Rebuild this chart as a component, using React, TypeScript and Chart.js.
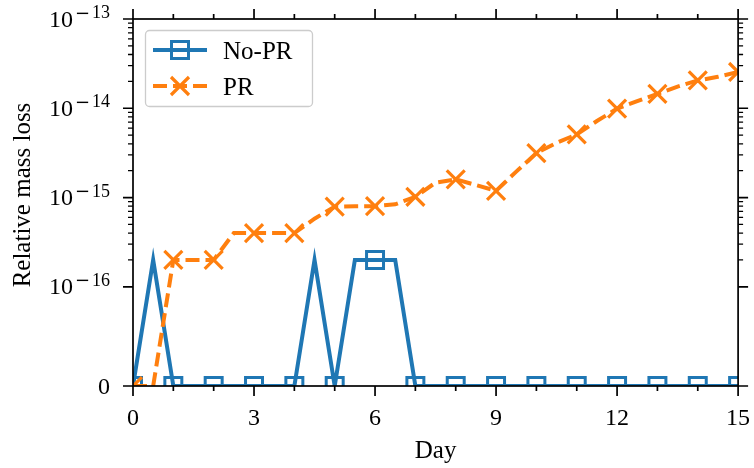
import React, { useEffect, useRef } from "react";
import { Chart, Scale, registerables } from "chart.js";

// ---------------- data ----------------
const days = [
  0, 0.5, 1, 1.5, 2, 2.5, 3, 3.5, 4, 4.5, 5, 5.5, 6, 6.5, 7, 7.5, 8, 8.5, 9, 9.5,
  10, 10.5, 11, 11.5, 12, 12.5, 13, 13.5, 14, 14.5, 15,
];
const noPR = [
  0, 2e-16, 0, 0, 0, 0, 0, 0, 0, 2e-16, 0, 2e-16, 2e-16, 2e-16, 0, 0, 0, 0, 0, 0,
  0, 0, 0, 0, 0, 0, 0, 0, 0, 0, 0,
];
const PR = [
  0, 0, 2e-16, 2e-16, 2e-16, 4e-16, 4e-16, 4e-16, 4e-16, 5.8e-16, 7.9e-16, 8e-16, 8e-16,
  8.4e-16, 1.02e-15, 1.47e-15, 1.6e-15, 1.38e-15, 1.19e-15, 1.95e-15, 3.15e-15, 4.1e-15,
  5.1e-15, 7.2e-15, 9.9e-15, 1.2e-14, 1.45e-14, 1.75e-14, 2.05e-14, 2.25e-14, 2.55e-14,
];
const seriesLabels = ["No-PR", "PR"];
const xTicks = [0, 1, 2, 3, 4, 5, 6, 7, 8, 9, 10, 11, 12, 13, 14, 15];
const xMajorTicks = [0, 3, 6, 9, 12, 15];
const yMajorTicks = [0, 1e-16, 1e-15, 1e-14, 1e-13];
const yMajorExponents = ["", "16", "15", "14", "13"];
const yMinorMantissas = [2, 3, 4, 5, 6, 7, 8, 9];
const yMinorDecades = [-16, -15, -14];
const xTitle = "Day";
const yTitle = "Relative mass loss";

// ---------------- style ----------------
const BLUE = "#1f77b4";
const ORANGE = "#ff7f0e";
const FONT = "'Liberation Serif', 'Times New Roman', serif";
const MINUS_FONT = "'DejaVu Serif', serif";
const LINTHRESH = 1e-16;
const LINSCALE = 1 / (1 - 1 / 10);

function symlog(v: number): number {
  const a = Math.abs(v);
  const s = v < 0 ? -1 : 1;
  if (a <= LINTHRESH) return (v / LINTHRESH) * LINSCALE;
  return s * (LINSCALE + Math.log10(a / LINTHRESH));
}
function invSymlog(t: number): number {
  const a = Math.abs(t);
  const s = t < 0 ? -1 : 1;
  if (a <= LINSCALE) return (t / LINSCALE) * LINTHRESH;
  return s * LINTHRESH * Math.pow(10, a - LINSCALE);
}

class SymlogScale extends (Scale as any) {
  static id = "symlog";
  static defaults = {};
  _tmin = 0;
  _trange = 1;
  parse(raw: any) {
    return typeof raw === "number" ? raw : Number(raw);
  }
  determineDataLimits() {
    const me: any = this;
    me.min = me.options.min ?? 0;
    me.max = me.options.max ?? 1;
  }
  buildTicks() {
    return yMajorTicks.map((v) => ({ value: v }));
  }
  configure() {
    const me: any = this;
    super.configure();
    me._tmin = symlog(me.min);
    me._trange = symlog(me.max) - symlog(me.min);
  }
  getPixelForValue(value: number) {
    const me: any = this;
    if (value === null || value === undefined || isNaN(value)) return NaN;
    return me.getPixelForDecimal((symlog(value) - me._tmin) / me._trange);
  }
  getValueForPixel(pixel: number) {
    const me: any = this;
    const d = me.getDecimalForPixel(pixel);
    return invSymlog(me._tmin + d * me._trange);
  }
  getPixelForTick(index: number) {
    const me: any = this;
    const ticks = me.ticks;
    if (index < 0 || index > ticks.length - 1) return null;
    return me.getPixelForValue(ticks[index].value);
  }
}

Chart.register(...registerables, SymlogScale as any);

const decorPlugin = {
  id: "decor",
  afterDatasetsDraw(chart: any) {
    const ctx: CanvasRenderingContext2D = chart.ctx;
    const { left, right, top, bottom } = chart.chartArea;
    const xs = chart.scales.x;
    const ys = chart.scales.y;
    ctx.save();
    ctx.strokeStyle = "#000";
    ctx.lineWidth = 1.7;
    ctx.lineCap = "butt";
    // frame
    ctx.strokeRect(left, top, right - left, bottom - top);
    // x ticks
    xTicks.forEach((v) => {
      const px = xs.getPixelForValue(v);
      const len = xMajorTicks.includes(v) ? 10 : 5;
      ctx.beginPath();
      ctx.moveTo(px, bottom);
      ctx.lineTo(px, bottom + len);
      ctx.moveTo(px, top);
      ctx.lineTo(px, top - len);
      ctx.stroke();
    });
    // y ticks
    yMajorTicks.forEach((v) => {
      const py = ys.getPixelForValue(v);
      ctx.beginPath();
      ctx.moveTo(left, py);
      ctx.lineTo(left - 10, py);
      ctx.moveTo(right, py);
      ctx.lineTo(right + 10, py);
      ctx.stroke();
    });
    ctx.lineWidth = 1.3;
    yMinorDecades.forEach((e) => {
      yMinorMantissas.forEach((m) => {
        const py = ys.getPixelForValue(m * Math.pow(10, e));
        ctx.beginPath();
        ctx.moveTo(left, py);
        ctx.lineTo(left - 5, py);
        ctx.moveTo(right, py);
        ctx.lineTo(right + 5, py);
        ctx.stroke();
      });
    });
    // x tick labels
    ctx.fillStyle = "#000";
    ctx.font = `24px ${FONT}`;
    ctx.textAlign = "center";
    ctx.textBaseline = "alphabetic";
    xMajorTicks.forEach((v) => {
      ctx.fillText(String(v), xs.getPixelForValue(v), bottom + 39);
    });
    // y tick labels
    const xr = left - 23;
    yMajorTicks.forEach((v, i) => {
      const py = ys.getPixelForValue(v);
      const ex = yMajorExponents[i];
      if (!ex) {
        ctx.font = `24px ${FONT}`;
        ctx.textAlign = "right";
        ctx.fillText("0", xr, py + 8);
        return;
      }
      ctx.font = `18px ${FONT}`;
      ctx.textAlign = "right";
      ctx.fillText(ex, xr, py - 1);
      const wEx = ctx.measureText(ex).width;
      ctx.font = `18px ${MINUS_FONT}`;
      const wMinus = ctx.measureText("\u2212").width;
      const minusRight = xr - wEx - 2;
      ctx.fillText("\u2212", minusRight, py - 0.5);
      ctx.font = `24px ${FONT}`;
      ctx.fillText("10", minusRight - wMinus - 2, py + 7.5);
    });
    // axis titles
    ctx.font = `25px ${FONT}`;
    ctx.textAlign = "center";
    ctx.fillText(xTitle, (left + right) / 2, bottom + 72);
    ctx.save();
    ctx.translate(30, 195);
    ctx.rotate(-Math.PI / 2);
    ctx.fillText(yTitle, 0, 0);
    ctx.restore();
    ctx.restore();
  },
  afterDraw(chart: any) {
    const ctx: CanvasRenderingContext2D = chart.ctx;
    ctx.save();
    // legend frame
    ctx.beginPath();
    (ctx as any).roundRect(145.5, 30.5, 167, 76, 4);
    ctx.fillStyle = "rgba(255,255,255,0.8)";
    ctx.fill();
    ctx.strokeStyle = "#cccccc";
    ctx.lineWidth = 1.3;
    ctx.stroke();
    // No-PR entry
    const y1 = 50;
    ctx.strokeStyle = BLUE;
    ctx.lineWidth = 4;
    ctx.beginPath();
    ctx.moveTo(153, y1);
    ctx.lineTo(207, y1);
    ctx.stroke();
    ctx.lineWidth = 3;
    ctx.strokeRect(180 - 8.5, y1 - 8.5, 17, 17);
    // PR entry
    const y2 = 86;
    ctx.strokeStyle = ORANGE;
    ctx.lineWidth = 4;
    ctx.setLineDash([14, 6]);
    ctx.beginPath();
    ctx.moveTo(153, y2);
    ctx.lineTo(207, y2);
    ctx.stroke();
    ctx.setLineDash([]);
    ctx.lineWidth = 3.2;
    ctx.beginPath();
    ctx.moveTo(180 - 9, y2 - 9);
    ctx.lineTo(180 + 9, y2 + 9);
    ctx.moveTo(180 - 9, y2 + 9);
    ctx.lineTo(180 + 9, y2 - 9);
    ctx.stroke();
    // texts
    ctx.fillStyle = "#000";
    ctx.font = `25px ${FONT}`;
    ctx.textAlign = "left";
    ctx.textBaseline = "alphabetic";
    ctx.fillText(seriesLabels[0], 223, y1 + 8.5);
    ctx.fillText(seriesLabels[1], 223, y2 + 9);
    ctx.restore();
  },
};

export default function App() {
  const ref = useRef<HTMLCanvasElement | null>(null);
  useEffect(() => {
    if (!ref.current) return;
    const isMarker = (c: any) => Number.isInteger(days[c.dataIndex]);
    const chart = new Chart(ref.current, {
      type: "line",
      data: {
        datasets: [
          {
            label: seriesLabels[0],
            data: days.map((d, i) => ({ x: d, y: noPR[i] })),
            borderColor: BLUE,
            borderWidth: 4,
            pointStyle: "rect",
            pointRadius: (c: any) => (isMarker(c) ? 12 : 0),
            pointBorderWidth: 3,
            pointBorderColor: BLUE,
            pointBackgroundColor: "rgba(0,0,0,0)",
            pointHoverRadius: 0,
            tension: 0,
            clip: 0,
            order: 1,
          } as any,
          {
            label: seriesLabels[1],
            data: days.map((d, i) => ({ x: d, y: PR[i] })),
            borderColor: ORANGE,
            borderWidth: 4,
            borderDash: [14, 6],
            pointStyle: "crossRot",
            pointRadius: (c: any) => (isMarker(c) ? 12.7 : 0),
            pointBorderWidth: 3.2,
            pointBorderColor: ORANGE,
            pointBackgroundColor: ORANGE,
            pointHoverRadius: 0,
            tension: 0,
            clip: 0,
            order: 0,
          } as any,
        ],
      },
      options: {
        responsive: false,
        animation: false,
        events: [],
        layout: { padding: { top: 19, right: 12, left: 0, bottom: 0 } },
        plugins: { legend: { display: false }, tooltip: { enabled: false } },
        scales: {
          x: {
            type: "linear",
            min: 0,
            max: 15,
            grid: { display: false, drawTicks: false },
            border: { display: false },
            ticks: { display: false },
            afterFit: (s: any) => {
              s.height = 82;
            },
          },
          y: {
            type: "symlog" as any,
            min: 0,
            max: 1e-13,
            grid: { display: false, drawTicks: false },
            border: { display: false },
            ticks: { display: false },
            afterFit: (s: any) => {
              s.width = 133;
            },
          } as any,
        },
      },
      plugins: [decorPlugin],
    });
    return () => chart.destroy();
  }, []);
  return (
    <div style={{ position: "fixed", left: 0, top: 0, width: 754, height: 468, background: "#fff" }}>
      <canvas ref={ref} width={754} height={468} style={{ width: 754, height: 468 }} />
    </div>
  );
}
